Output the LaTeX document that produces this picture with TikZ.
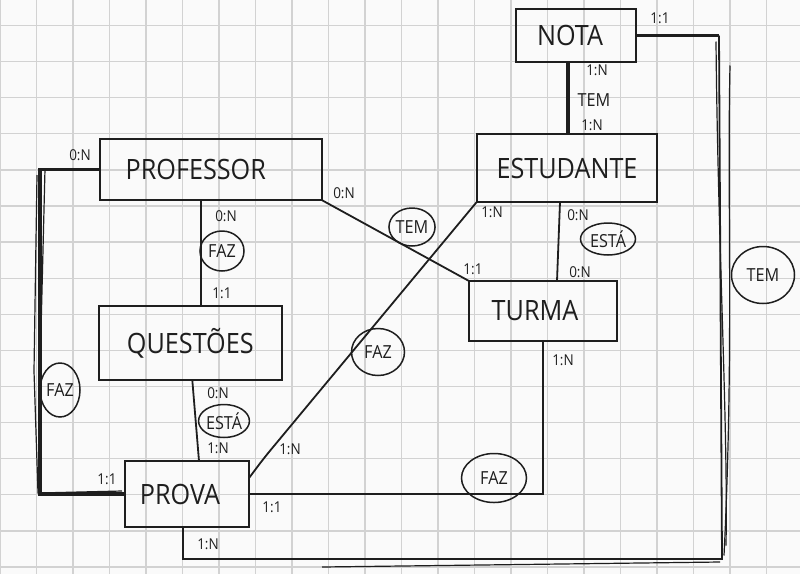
\documentclass[tikz,border=0pt]{standalone}
\usepackage{fontspec}
\setmainfont{Open Sans}
\newfontfamily\hand[FakeStretch=0.9]{Open Sans}
\usetikzlibrary{shapes.geometric,calc}
\definecolor{ink}{HTML}{1E1E1E}
\definecolor{gridc}{HTML}{D2D2D2}
\definecolor{paper}{HTML}{FAFAFA}
\begin{document}
\begin{tikzpicture}[x=1pt,y=-1pt,
  gridline/.style={draw=gridc,line width=1.3pt},
  entity/.style={draw=ink,line width=1.8pt,inner sep=0pt,outer sep=0pt,text=ink,font=\hand\fontsize{28}{30}\selectfont},
  rel/.style={ellipse,draw=ink,line width=1.5pt,inner sep=0pt,text=ink,font=\hand\fontsize{18}{20}\selectfont},
  card/.style={text=ink,inner sep=0pt,font=\hand\fontsize{15}{17}\selectfont},
  conn/.style={draw=ink,line width=1.8pt},
  heavy/.style={draw=ink,line width=3.4pt},
  sketch/.style={draw=ink,line width=1.2pt}]
\useasboundingbox (0,0) rectangle (800,574);
\fill[paper] (0,0) rectangle (800,574);
% grid
\foreach \k in {0,...,21} \draw[gridline] (36.5*\k,0) -- (36.5*\k,574);
\foreach \k in {0,...,15} \draw[gridline] (0,25.5+36.1*\k) -- (800,25.5+36.1*\k);

% entities
\node[entity,minimum width=221.7pt,minimum height=61pt] (prof) at (210.8,169.5) {\hspace*{-30pt}PROFESSOR};
\node[entity,minimum width=120pt,minimum height=52.4pt] (nota) at (576,35.5) {\hspace*{-12pt}NOTA};
\node[entity,minimum width=180.6pt,minimum height=68pt] (estud) at (567,168) {ESTUDANTE};
\node[entity,minimum width=148pt,minimum height=60pt] (turma) at (543,311) {\hspace*{-16pt}TURMA};
\node[entity,minimum width=182.7pt,minimum height=74.3pt] (quest) at (190.3,343) {QUESTÕES};
\node[entity,minimum width=124pt,minimum height=66pt] (prova) at (187,494) {\hspace*{-14pt}PROVA};

% corner coordinates
\coordinate (lt) at (40,171);
\coordinate (tr) at (719,35.5);
\coordinate (br) at (722,559);

% connectors
\draw[conn] ([xshift=-10pt]prof.south) -- ([xshift=-10pt]prof.south |- quest.north);
\draw[heavy] (prof.west) -| (lt) |- (prova.west);
\draw[sketch] ($(lt)+(-3,4)$) -- ($(lt)+(-6,200)$) -- ($(lt)+(-2,322)$) -- ($(lt)+(82,320)$);
\draw[sketch] ($(lt)+(5,-2)$) -- ($(lt)+(1,160)$);
\draw[conn] ([xshift=2pt]quest.south) -- ([xshift=12pt]prova.north);
\draw[conn,rounded corners=10pt] ([yshift=16pt]prova.east) -- ++(15,-20) -- (estud.south west);
\draw[conn] (prof.south east) -- (turma.north west);
\draw[conn] ([xshift=-7pt]estud.south) -- ([xshift=14pt]turma.north);
\draw[heavy] ([xshift=-8pt]nota.south) -- ([xshift=1pt]estud.north);
\draw[conn] (prova.east) -| (turma.south);
\draw[heavy] (nota.east) -- (tr);
\draw[conn] (tr) -- (br) -| ([xshift=-4pt]prova.south);
\draw[sketch] ($(tr)+(11,30)$) .. controls ($(tr)+(8,165)$) and ($(tr)+(15,315)$) .. ($(tr)+(5,520)$);
\draw[sketch] ($(tr)+(-3,6)$) .. controls ($(tr)+(-1,215)$) and ($(tr)+(9,385)$) .. ($(tr)+(7,510)$);
\draw[sketch] ($(br)+(-2,3)$) -- ($(br)+(-400,8)$);

% cardinalities and relationships
\node[card] (c1) at (80,155) {0:N};
\node[card] (c2) at (226,216) {0:N};
\node[rel,minimum width=44pt,minimum height=40pt] (r1) at (222,251) {FAZ};
\node[card] (c3) at (222,293) {1:1};
\node[card] (c4) at (344,193) {0:N};
\node[rel,minimum width=42pt,minimum height=38pt] (r2) at (412,227) {TEM};
\node[card] (c5) at (473,269) {1:1};
\node[card] (c6) at (597,70) {1:N};
\node[card,font=\hand\fontsize{18}{20}\selectfont] (t1) at (594,100) {TEM};
\node[card] (c7) at (592,125) {1:N};
\node[card] (c8) at (660,18) {1:1};
\node[card] (c9) at (492,212) {1:N};
\node[card] (c10) at (578,215) {0:N};
\node[rel,minimum width=55pt,minimum height=32pt] (r3) at (608,239) {ESTÁ};
\node[card] (c11) at (580,272) {0:N};
\node[rel,minimum width=63pt,minimum height=57pt] (r4) at (763,275) {TEM};
\node[rel,minimum width=53pt,minimum height=47pt] (r5) at (378,352) {FAZ};
\node[card] (c12) at (290,449) {1:N};
\node[rel,minimum width=40pt,minimum height=54pt] (r6) at (60,390) {FAZ};
\node[card] (c13) at (107,479) {1:1};
\node[card] (c14) at (218,393) {0:N};
\node[rel,minimum width=48pt,minimum height=33pt] (r7) at (224,421) {ESTÁ};
\node[card] (c15) at (218,448) {1:N};
\node[card] (c16) at (272,507) {1:1};
\node[card] (c17) at (563,360) {1:N};
\node[rel,minimum width=65pt,minimum height=49pt] (r8) at (494,478) {FAZ};
\node[card] (c18) at (208,544) {1:N};
\end{tikzpicture}
\end{document}
